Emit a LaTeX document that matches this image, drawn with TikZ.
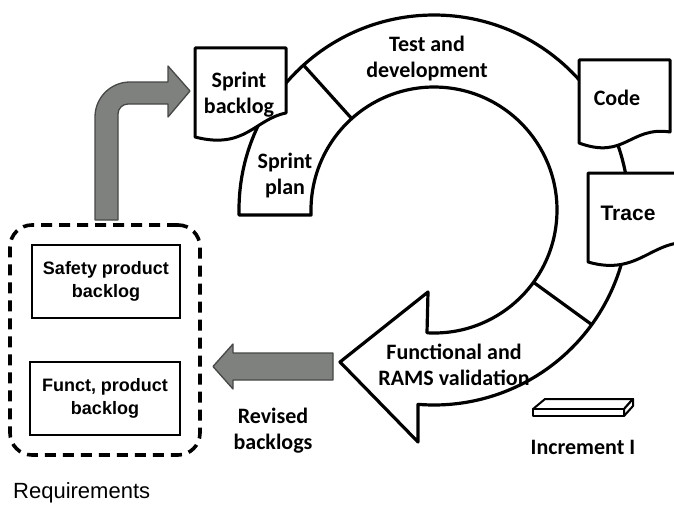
\documentclass[tikz,border=0pt]{standalone}
\usepackage{fontspec}
\setmainfont{Carlito}
\newfontfamily\arialfont{Liberation Sans}
\usetikzlibrary{calc}
\definecolor{arrowgray}{RGB}{126,129,126}
\definecolor{arrowedge}{RGB}{70,72,70}
\begin{document}
\begin{tikzpicture}[x=1pt,y=1pt,yscale=-1,
  ringline/.style={line width=3.2pt, draw=black, line join=round},
  docshape/.style={line width=3pt, draw=black, fill=white, line join=round},
  lbl/.style={font=\fontsize{22}{26}\selectfont\bfseries, align=center, inner sep=0pt},
  boxlbl/.style={font=\arialfont\fontsize{18}{23}\selectfont\bfseries, align=center, inner sep=0pt},
  greyarrow/.style={fill=arrowgray, draw=arrowedge, line width=1.3pt, line join=round},
  backlogbox/.style={draw=black, line width=2.8pt, fill=white, inner sep=0pt},
  reqbox/.style={draw=black, line width=3.6pt, dash pattern=on 11pt off 7pt, rounded corners=22pt, inner sep=0pt}
]
\clip (0,0) rectangle (674,511);
\fill[white] (0,0) rectangle (674,511);

\coordinate (C) at (434,210);

% ring with arrowhead
\draw[ringline, fill=white] (239.06,215) arc[start angle=178.53, end angle=454.7, radius=195]
  -- (418,442) -- (340,362) -- (428,292) -- (427,332.8)
  arc[start angle=453.26, end angle=177.67, radius=123] -- cycle;
\draw[ringline] ($(C)+(228:123)$) -- ($(C)+(228:195)$);
\draw[ringline] ($(C)+(36:123)$) -- ($(C)+(36:195)$);

% documents
\draw[docshape] (195,48) -- (286,48) -- (286,113) .. controls (255,119) and (245,150) .. (195,137) -- cycle;
\draw[docshape] (579,60) -- (670,60) -- (670,132) .. controls (630,126) and (625,160) .. (579,143) -- cycle;
\draw[docshape] (588,173) -- (695,173) -- (695,243) .. controls (652,237) and (640,277) .. (588,262) -- cycle;

% labels
\node[lbl] (testdev) at (427,59) {Test and\\development};
\node[lbl] (sbacklog) at (239,95) {Sprint\\backlog};
\node[lbl] (splan) at (285,176) {Sprint\\plan};
\node[lbl] (code) at (617,98) {Code};
\node[font=\arialfont\fontsize{21}{25}\selectfont\bfseries, inner sep=0pt] (trace) at (628,213) {Trace};
\node[lbl] (valid) at (454,365) {Functional and\\RAMS validation};
\node[lbl] (revised) at (273,431) {Revised\\backlogs};
\node[lbl] (incr) at (583,447) {Increment I};

% increment bar
\draw[line width=2pt, fill=white, line join=round] (533,409) -- (545,399) -- (633,399) -- (624,409) -- cycle;
\draw[line width=2pt, fill=white, line join=round] (533,409) -- (624,409) -- (624,416) -- (533,416) -- cycle;
\draw[line width=2pt, fill=white, line join=round] (624,409) -- (633,399) -- (633,406) -- (624,416) -- cycle;

% requirements box
\node[reqbox, minimum width=190pt, minimum height=230pt] (req) at (105,340) {};
\node[backlogbox, minimum width=148pt, minimum height=73pt] (safety) at (106,281.5) {};
\node[boxlbl] at (safety) {Safety product\\backlog};
\node[backlogbox, minimum width=150pt, minimum height=73pt] (funct) at (105,398.5) {};
\node[boxlbl] at (funct) {Funct, product\\backlog};
\node[font=\arialfont\fontsize{22}{26}\selectfont, anchor=west, inner sep=0pt] (reqlabel) at (13,493) {Requirements};

% grey arrows
\draw[greyarrow] (333,353) -- (233,353) -- (233,344) -- (213,366.5) -- (233,389) -- (233,380) -- (333,380) -- cycle;
\draw[greyarrow] (95,220) -- (95,117) arc[start angle=180, end angle=270, radius=35]
  -- (168,82) -- (168,66) -- (190,91) -- (168,117) -- (168,104) -- (128,104)
  arc[start angle=270, end angle=180, radius=10] -- (118,220) -- cycle;
\end{tikzpicture}
\end{document}
